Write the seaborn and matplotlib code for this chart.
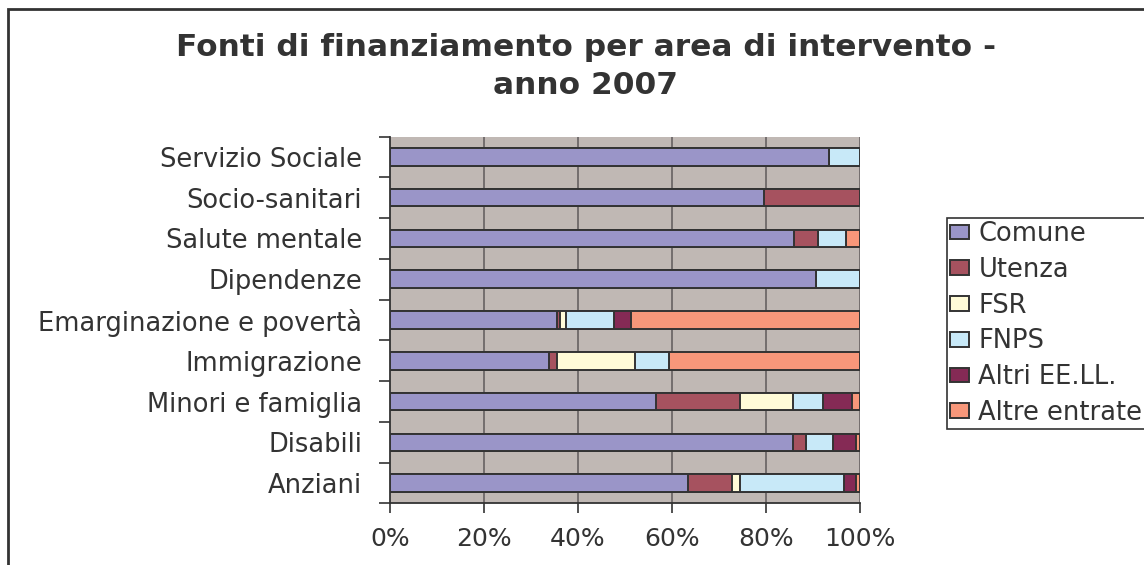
import numpy as np
import pandas as pd
import matplotlib
matplotlib.use("Agg")
import matplotlib.pyplot as plt
from matplotlib.patches import Rectangle
import seaborn as sns

# Data (percent shares)
aree = ["Servizio Sociale", "Socio-sanitari", "Salute mentale", "Dipendenze",
        "Emarginazione e povertà", "Immigrazione", "Minori e famiglia",
        "Disabili", "Anziani"]
fonti = ["Comune", "Utenza", "FSR", "FNPS", "Altri EE.LL.", "Altre entrate"]
comune = [93.4, 79.6, 86.0, 90.6, 35.5, 33.9, 56.6, 85.7, 63.4]
utenza = [0.0, 20.4, 5.0, 0.0, 0.7, 1.6, 17.8, 2.8, 9.4]
fsr = [0.0, 0.0, 0.0, 0.0, 1.3, 16.6, 11.3, 0.0, 1.6]
fnps = [6.6, 0.0, 6.0, 9.4, 10.2, 7.3, 6.5, 5.7, 22.2]
altri_eell = [0.0, 0.0, 0.0, 0.0, 3.6, 0.0, 6.1, 4.9, 2.5]
altre_entrate = [0.0, 0.0, 3.0, 0.0, 48.7, 40.6, 1.7, 0.9, 0.9]
colori = ["#9A95C8", "#A6525F", "#FFFBD7", "#C8E9F8", "#852A55", "#F7977A"]
x_ticks = [0, 20, 40, 60, 80, 100]

df = pd.DataFrame({"Area": aree, "Comune": comune, "Utenza": utenza, "FSR": fsr,
                   "FNPS": fnps, "Altri EE.LL.": altri_eell,
                   "Altre entrate": altre_entrate})
cum = df[fonti].cumsum(axis=1)
# normalise to 100%
cum = cum.div(cum["Altre entrate"], axis=0) * 100
cum["Area"] = aree

sns.set_style("white")
plt.rcParams["font.family"] = ["DejaVu Sans"]
txt = "#333333"
fs = 18.5

fig = plt.figure(figsize=(11.44, 5.65), dpi=100)
ax = fig.add_axes([390 / 1144, 1 - 503.4 / 565, 470 / 1144, (503.4 - 136.6) / 565])
ax.set_facecolor("#C0B8B4")

# stacked bars: draw cumulative totals from the last source to the first
for fonte, col in reversed(list(zip(fonti, colori))):
    sns.barplot(data=cum, y="Area", x=fonte, orient="h", color=col,
                width=0.43, edgecolor="#333333", linewidth=1.4, saturation=1,
                ax=ax, zorder=3, label=fonte)

ax.set_xlim(0, 100)
ax.set_ylim(8.5, -0.5)
ax.set_xticks(x_ticks)
ax.set_xticklabels([f"{v}%" for v in x_ticks], fontsize=18, color=txt)
ax.set_yticks(range(len(aree)))
ax.set_yticklabels(aree, fontsize=fs, color=txt)
ax.set_yticks(np.arange(-0.5, len(aree), 1), minor=True)
ax.tick_params(axis="y", which="major", length=0, pad=20)
ax.tick_params(axis="y", which="minor", length=8, width=1.2, color="#333333",
               direction="out", left=True)
ax.tick_params(axis="x", length=7, width=1.2, color="#333333", direction="out",
               bottom=True, pad=10)
ax.set_xlabel("")
ax.set_ylabel("")
for v in x_ticks[1:]:
    ax.axvline(v, color="#6E6868", lw=1.3, zorder=1)
for s in ["top", "right"]:
    ax.spines[s].set_visible(False)
for s in ["left", "bottom"]:
    ax.spines[s].set_color("#333333")
    ax.spines[s].set_linewidth(1.3)
ax.legend().remove()

# legend in original order
handles, labels = ax.get_legend_handles_labels()
order = [labels.index(f) for f in fonti]
leg = fig.legend([handles[i] for i in order], fonti, loc="upper left",
                 bbox_to_anchor=(947 / 1144, 1 - 218 / 565), fontsize=fs,
                 frameon=True, fancybox=False, framealpha=1, edgecolor="#333333",
                 handlelength=0.75, handleheight=0.5, handletextpad=0.35,
                 labelspacing=0.38, borderpad=0.12, borderaxespad=0)
leg.get_frame().set_linewidth(1.2)
for t in leg.get_texts():
    t.set_color(txt)

fig.text(586 / 1144, 1 - 47 / 565, "Fonti di finanziamento per area di intervento -",
         ha="center", va="center", fontsize=22.5, fontweight="bold", color=txt)
fig.text(586 / 1144, 1 - 86 / 565, "anno 2007", ha="center", va="center",
         fontsize=22.5, fontweight="bold", color=txt)

# outer chart border
fig.patches.append(Rectangle((8 / 1144, -0.1), 1.2, 1 - 9 / 565 + 0.1,
                             transform=fig.transFigure, fill=False,
                             edgecolor="#333333", lw=2))

fig.savefig("out.png", dpi=100)
